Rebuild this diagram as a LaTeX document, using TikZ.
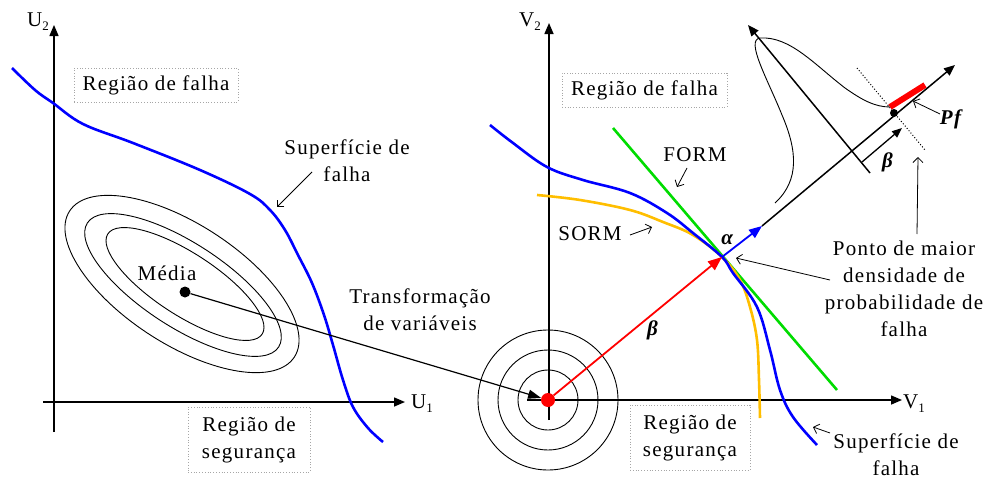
\documentclass[tikz,border=0pt]{standalone}
\usepackage{fontspec}
\setmainfont{Liberation Serif}[LetterSpace=6]
\usetikzlibrary{arrows.meta}
\definecolor{sblue}{RGB}{0,0,255}
\definecolor{sgreen}{RGB}{0,220,0}
\definecolor{sorange}{RGB}{255,190,0}
\definecolor{sred}{RGB}{255,0,0}
\newcommand\mysub[1]{\raisebox{-4pt}{\fontsize{13}{13}\selectfont #1}}
\newcommand\bgr[1]{\textbf{\textit{#1}}}
\begin{document}
\begin{tikzpicture}[x=1pt,y=-1pt,
  txt/.style={font=\fontsize{21}{27}\selectfont, inner sep=0pt, align=center},
  regbox/.style={txt, draw=gray!70, dotted, line width=0.8pt},
  axisarrow/.style={line width=1.5pt, -{Triangle[length=11pt,width=9pt]}},
  lbl/.style={line width=0.8pt, -{Straight Barb[length=5pt,width=10pt]}},
  thickcurve/.style={line width=2.6pt},
  contour/.style={line width=0.9pt}
]
\useasboundingbox (0,0) rectangle (990,479);

% ---------------- left panel ----------------
\coordinate (u2b) at (54,432);
\coordinate (u2t) at (54,25);
\coordinate (u1l) at (43,402);
\coordinate (u1r) at (405,402);
\draw[axisarrow] (u2b) -- (u2t);
\draw[axisarrow] (u1l) -- (u1r);
\node[txt] (u2lab) at (38,22) {U\mysub{2}};
\node[txt] (u1lab) at (422,404) {U\mysub{1}};

\draw[contour, rotate around={-33:(185,284)}] (185,284) ellipse [x radius=92pt, y radius=31pt];
\draw[contour, rotate around={-33:(183,285)}] (183,285) ellipse [x radius=114pt, y radius=42pt];
\draw[contour, rotate around={-33:(182,284)}] (182,284) ellipse [x radius=134pt, y radius=60pt];

\draw[thickcurve, sblue] plot[smooth, tension=0.6] coordinates
 {(12,68) (35,90) (53,103) (83,124) (133,143) (200,170) (250,194) (270,210)
  (285,230) (298,255) (312,283) (324,315) (333,345) (343,380) (353,407) (368,428) (383,442)};

\node[regbox, minimum width=164pt, minimum height=34pt] (rfL) at (156,85) {Região de falha};
\node[regbox, minimum width=122pt, minimum height=65pt] (rsL) at (249,439.5) {Região de\\segurança};

\node[txt] (sfL) at (347,161) {Superfície de\\falha};
\coordinate (sfLa) at (312,172);
\coordinate (sfLb) at (277,207);
\draw[lbl] (sfLa) -- (sfLb);

\node[circle, fill=black, inner sep=0pt, minimum size=11pt] (mean) at (185,292) {};
\node[txt] (media) at (167,273) {Média};
\node[txt] (transf) at (420,310) {Transformação\\de variáveis};

% ---------------- right panel ----------------
\coordinate (v2b) at (549,420);
\coordinate (v2t) at (549,23);
\coordinate (v1l) at (527,400);
\coordinate (v1r) at (902,400);
\draw[axisarrow] (v2b) -- (v2t);
\draw[axisarrow] (v1l) -- (v1r);
\node[txt] (v2lab) at (530,22) {V\mysub{2}};
\node[txt] (v1lab) at (914,404) {V\mysub{1}};

\draw[contour] (548,400) circle[radius=30pt];
\draw[contour] (548,400) circle[radius=50pt];
\draw[contour] (548,400) circle[radius=70pt];

\node[regbox, minimum width=165pt, minimum height=34pt] (rfR) at (644.5,90) {Região de falha};
\node[regbox, minimum width=120pt, minimum height=65pt] (rsR) at (690,437.5) {Região de\\segurança};

% FORM, SORM, limit state
\coordinate (fa) at (613,128);
\coordinate (fb) at (837,390);
\draw[thickcurve, sgreen] (fa) -- (fb);
\draw[thickcurve, sorange] plot[smooth, tension=0.6] coordinates
 {(537,195) (580,200) (630,210) (663,222) (693,235) (722,257) (740,280) (750,307) (757,340) (759,380) (760,418)};
\draw[thickcurve, sblue] plot[smooth, tension=0.6] coordinates
 {(490,125) (513,143) (547,167) (583,180) (630,193) (667,213) (693,233) (722,257)
  (733,273) (757,307) (770,350) (780,390) (793,417) (817,445)};

\coordinate (P) at (722,257);
\coordinate (A) at (762,226);
\coordinate (T) at (955,65);

% transformation arrow
\node[circle, fill=sred, inner sep=0pt, minimum size=14pt] (O) at (548,400) {};
\draw[line width=1.2pt, -{Triangle[length=13pt,width=9pt]}] (mean) -- (O);

% beta vector
\draw[line width=1.8pt, sred, -{Triangle[length=14pt,width=11pt]}] (O) -- (P);
\node[txt] (betalab) at (653,330) {\bgr{β}};

% alpha and normal axis
\draw[axisarrow] (A) -- (T);
\draw[line width=1.8pt, sblue, -{Triangle[length=13pt,width=10pt]}] (P) -- (A);
\node[txt] (alphalab) at (728,240) {\bgr{α}};

% pdf sketch
\coordinate (pa) at (870,173);
\coordinate (pb) at (748,25);
\draw[axisarrow] (pa) -- (pb);
\draw[line width=0.9pt] (775,203) .. controls (800,180) and (797,150) .. (782,115)
  .. controls (768,80) and (745,40) .. (760,38)
  .. controls (790,36) and (815,65) .. (845,88)
  .. controls (862,100) and (875,107) .. (890,107);
\coordinate (da) at (857,68);
\coordinate (db) at (925,150);
\draw[dotted, line width=1pt] (da) -- (db);
\coordinate (ra) at (890,107);
\coordinate (rb) at (925,85);
\draw[sred, line width=6pt] (ra) -- (rb);
\node[circle, fill=black, inner sep=0pt, minimum size=8pt] (D) at (894,113) {};
\coordinate (ba) at (862,162);
\coordinate (bb) at (902,128);
\draw[line width=1.3pt, -{Triangle[length=10pt,width=8pt]}] (ba) -- (bb);
\node[txt] (beta2) at (888,162) {\bgr{β}};

\node[txt] (pf) at (952,119) {\bgr{Pf}};
\coordinate (pfa) at (940,114);
\coordinate (pfb) at (913,101);
\draw[lbl] (pfa) -- (pfb);

% labels
\node[txt] (form) at (695,155) {FORM};
\coordinate (forma) at (687,168);
\coordinate (formb) at (677,187);
\draw[lbl] (forma) -- (formb);

\node[txt] (sorm) at (590,234) {SORM};
\coordinate (sorma) at (630,235);
\coordinate (sormb) at (652,227);
\draw[lbl] (sorma) -- (sormb);

\node[txt] (ponto) at (904,289) {Ponto de maior\\densidade de\\probabilidade de\\falha};
\coordinate (pta) at (830,280);
\coordinate (ptb) at (736,258);
\draw[lbl] (pta) -- (ptb);
\coordinate (pva) at (917,234);
\coordinate (pvb) at (918,157);
\draw[lbl] (pva) -- (pvb);

\node[txt] (sfR) at (896,455) {Superfície de\\falha};
\coordinate (sfRa) at (830,433);
\coordinate (sfRb) at (813,427);
\draw[lbl] (sfRa) -- (sfRb);
\end{tikzpicture}
\end{document}
